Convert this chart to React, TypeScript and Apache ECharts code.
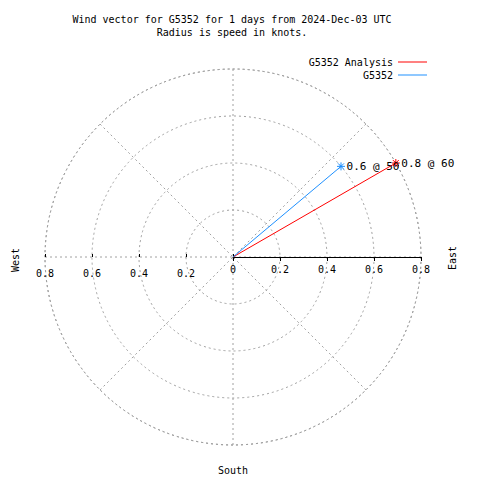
import React, { useEffect, useRef } from 'react';
import * as echarts from 'echarts';

const seriesNames = ['G5352 Analysis', 'G5352'];
const speeds = [0.8, 0.6];
const directions = [60, 50];
const seriesColors = ['#ff0000', '#1e90ff'];
const radiusMax = 0.8;
const radiusStep = 0.2;
const titleLines = ['Wind vector for G5352 for 1 days from 2024-Dec-03 UTC', 'Radius is speed in knots.'];
const compassLabels = { west: 'West', east: 'East', south: 'South' };

export default function App() {
  const ref = useRef<HTMLDivElement>(null);
  useEffect(() => {
    const chart = echarts.init(ref.current!, null, { renderer: 'svg' });
    const font = 'DejaVu Sans Mono';
    const grey = '#a0a0a0';
    const dash = [2, 3];
    const cx = 233, cy = 257, R = 188;
    const star = 'path://M0,-4L0,4M-4,0L4,0M-3,-3L3,3M-3,3L3,-3';
    const fmt = (v: number) => String(Math.abs(+(+v).toFixed(1)));
    const fmtWest = (v: number) => (Math.abs(+v) < 1e-9 ? '' : fmt(v));
    const txt = { fontFamily: font, fontSize: 10, fill: '#000' };

    chart.setOption({
      animation: false,
      textStyle: { fontFamily: font },
      polar: { center: [cx, cy], radius: R },
      angleAxis: {
        type: 'value', min: 0, max: 360, interval: 45, startAngle: 90, clockwise: true,
        axisLine: { show: true, lineStyle: { color: grey, type: dash, width: 1 } },
        axisTick: { show: false }, axisLabel: { show: false },
        splitLine: { show: true, lineStyle: { color: grey, type: dash, width: 1 } },
      },
      radiusAxis: {
        type: 'value', min: 0, max: radiusMax, interval: radiusStep,
        axisLine: { show: false }, axisTick: { show: false }, axisLabel: { show: false },
        splitLine: { show: true, lineStyle: { color: grey, type: dash, width: 1 } },
      },
      grid: [
        { left: cx - R, top: cy - 1, width: R, height: 1 },
        { left: cx, top: cy - 1, width: R, height: 1 },
      ],
      xAxis: [
        {
          gridIndex: 0, type: 'value', min: -radiusMax, max: 0, interval: radiusStep,
          axisLine: { show: false },
          axisTick: { show: true, inside: true, length: 3, lineStyle: { color: '#000' } },
          axisLabel: { formatter: fmtWest, fontFamily: font, fontSize: 10, color: '#000', margin: 11 },
          splitLine: { show: false },
        },
        {
          gridIndex: 1, type: 'value', min: 0, max: radiusMax, interval: radiusStep,
          axisLine: { show: true, lineStyle: { color: '#000', width: 1 } },
          axisTick: { show: true, length: 4, lineStyle: { color: '#000' } },
          axisLabel: { formatter: fmt, fontFamily: font, fontSize: 10, color: '#000', margin: 7 },
          splitLine: { show: false },
        },
      ],
      yAxis: [
        { gridIndex: 0, type: 'value', show: false },
        { gridIndex: 1, type: 'value', show: false },
      ],
      legend: {
        orient: 'vertical', right: 48, top: 52, align: 'right', itemWidth: 29, itemHeight: 1,
        itemGap: 3, selectedMode: false, icon: 'rect',
        itemStyle: { borderWidth: 0 },
        textStyle: { fontFamily: font, fontSize: 10, color: '#000' },
        data: seriesNames.map((n, i) => ({ name: n, itemStyle: { color: seriesColors[i], borderWidth: 0 } })),
      },
      series: seriesNames.map((name, i) => ({
        name, type: 'line', coordinateSystem: 'polar', polarIndex: 0,
        symbol: star, symbolSize: 8,
        itemStyle: { color: seriesColors[i], borderColor: seriesColors[i], borderWidth: 1 },
        lineStyle: { color: seriesColors[i], width: 1 },
        data: [
          { value: [0, directions[i]], symbol: 'none' },
          {
            value: [speeds[i], directions[i]],
            label: {
              show: true, position: 'right', distance: 1,
              formatter: `${speeds[i]} @ ${directions[i]}`,
              fontFamily: font, fontSize: 11, color: '#000',
            },
          },
        ],
      })),
      graphic: [
        { type: 'text', x: 232, y: 19, style: { ...txt, text: titleLines[0], align: 'center', verticalAlign: 'middle' } },
        { type: 'text', x: 232, y: 32, style: { ...txt, text: titleLines[1], align: 'center', verticalAlign: 'middle' } },
        { type: 'text', x: 15, y: 260, rotation: Math.PI / 2, style: { ...txt, text: compassLabels.west, align: 'center', verticalAlign: 'middle' } },
        { type: 'text', x: 452, y: 258, rotation: Math.PI / 2, style: { ...txt, text: compassLabels.east, align: 'center', verticalAlign: 'middle' } },
        { type: 'text', x: 233, y: 470, style: { ...txt, text: compassLabels.south, align: 'center', verticalAlign: 'middle' } },
      ],
    });
    return () => chart.dispose();
  }, []);
  return <div ref={ref} style={{ position: 'absolute', left: 0, top: 0, width: 480, height: 480 }} />;
}
